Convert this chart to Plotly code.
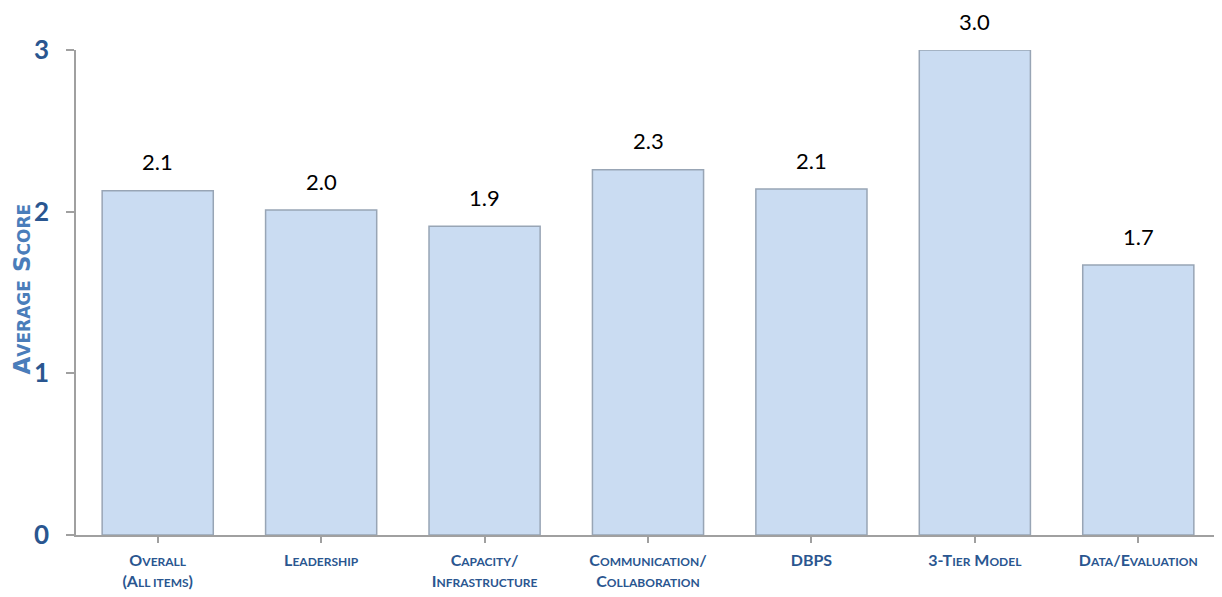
import plotly.graph_objects as go

categories = ["Overall<br>(All items)", "Leadership", "Capacity/<br>Infrastructure",
              "Communication/<br>Collaboration", "DBPS", "3-Tier Model", "Data/Evaluation"]
scores = [2.13, 2.01, 1.91, 2.26, 2.14, 3.0, 1.67]
y_ticks = [0, 1, 2, 3]
y_title = "Average Score"


def small_caps(text, small):
    out = []
    i = 0
    while i < len(text):
        if text.startswith("<br>", i):
            out.append("<br>")
            i += 4
            continue
        ch = text[i]
        if ch.islower():
            j = i
            while j < len(text) and (text[j].islower() or (text[j] == " " and j + 1 < len(text) and text[j + 1].islower())):
                j += 1
            out.append('<span style="font-size:%dpx">%s</span>' % (small, text[i:j].upper()))
            i = j
        else:
            out.append(ch)
            i += 1
    return "".join(out)


ticktext = [small_caps(c, 12) for c in categories]
xs = list(range(len(categories)))

fig = go.Figure()
fig.add_trace(go.Bar(
    x=xs,
    y=scores,
    marker=dict(color="#CADCF2", line=dict(color="#98A5B5", width=1.5)),
    hoverinfo="skip",
))

for x, v in zip(xs, scores):
    fig.add_annotation(x=x, y=v, xref="x", yref="y", text="%.1f" % v,
                       showarrow=False, yanchor="middle", yshift=29,
                       font=dict(family="Lato, sans-serif", size=22, color="#000000"))

# y-axis title as a rotated annotation for exact placement
fig.add_annotation(x=0, y=0.5, xref="paper", yref="paper",
                   text=small_caps(y_title, 17), textangle=-90,
                   showarrow=False, xanchor="center", yanchor="middle",
                   xshift=-55, yshift=3, borderpad=0,
                   font=dict(family="DejaVu Sans, sans-serif", size=23, color="#4A7DBA", weight="bold"))

# body has an 8px default margin, so the figure is sized to fit the window
fig.update_layout(
    width=1214, height=589,
    margin=dict(l=68, r=2, t=42, b=62),
    paper_bgcolor="white", plot_bgcolor="white",
    bargap=0.32,
    showlegend=False,
    font=dict(family="Lato, sans-serif"),
)
fig.update_xaxes(
    tickmode="array",
    tickvals=xs,
    ticktext=ticktext,
    range=[-0.5, len(categories) - 0.5],
    showline=True, linecolor="#A0A0A0", linewidth=1.5,
    ticks="outside", tickson="boundaries", ticklen=6, tickcolor="#A0A0A0", tickwidth=1.5,
    tickfont=dict(family="Lato, sans-serif", size=16, color="#2A5690", weight="bold"),
    showgrid=False,
    ticklabelstandoff=4,
)
fig.update_yaxes(
    range=[0, 3],
    tickvals=y_ticks,
    showline=True, linecolor="#A0A0A0", linewidth=1.5,
    ticks="outside", ticklen=8, tickcolor="#A0A0A0", tickwidth=1.5,
    tickfont=dict(family="Lato, sans-serif", size=26, color="#2A5690", weight="bold"),
    ticklabelstandoff=12,
    showgrid=False, zeroline=False,
)

fig.write_html("out.html")
